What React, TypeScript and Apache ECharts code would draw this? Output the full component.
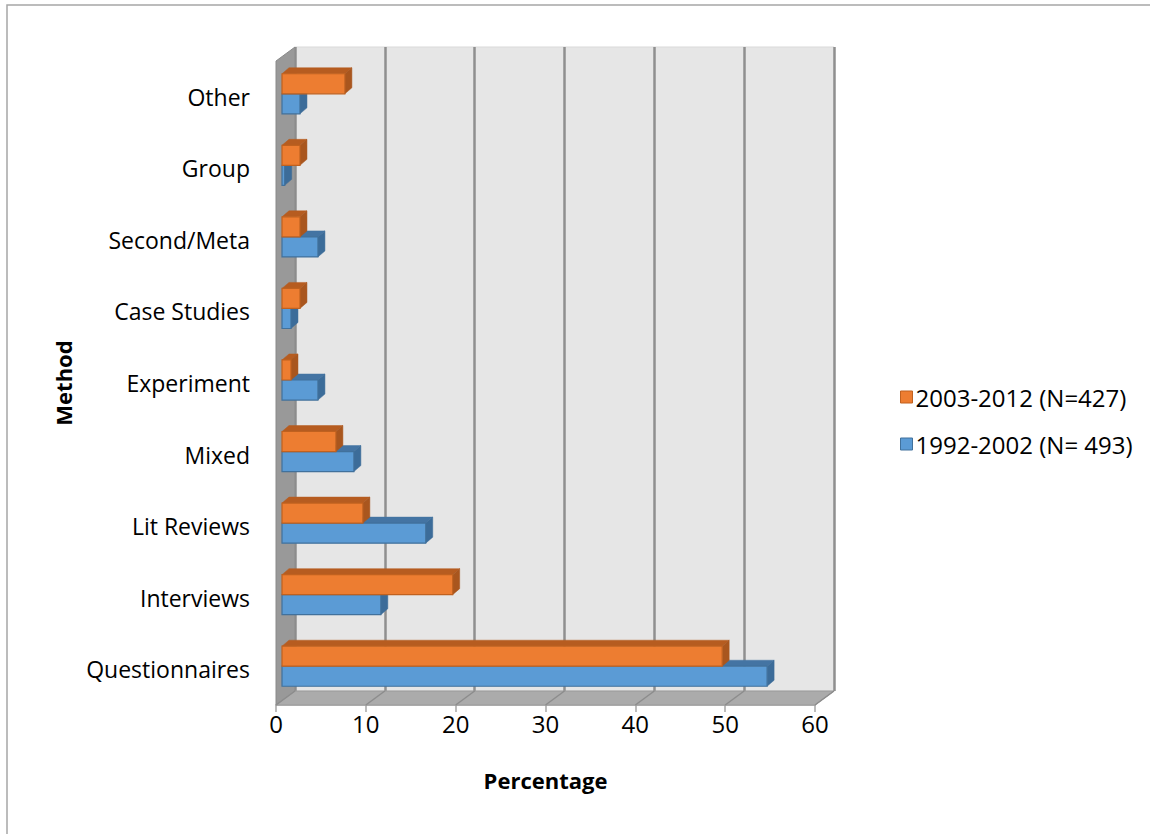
import React, { useEffect, useRef } from "react";
import * as echarts from "echarts";

const categories = [
  "Questionnaires",
  "Interviews",
  "Lit Reviews",
  "Mixed",
  "Experiment",
  "Case Studies",
  "Second/Meta",
  "Group",
  "Other",
];
const series1992 = [54, 11, 16, 8, 4, 1, 4, 0.3, 2];
const series2003 = [49, 19, 9, 6, 1, 2, 2, 2, 7];
const xTicks = [0, 10, 20, 30, 40, 50, 60];
const name2003 = "2003-2012 (N=427)";
const name1992 = "1992-2002 (N= 493)";

const FONT = "'Open Sans', 'Liberation Sans', sans-serif";

// layout (front plane & back wall)
const FL = 276, FT = 61, FW = 539, FH = 644;
const DX = 19, DY = -14;

const COLORS = {
  orange: { front: "#ED7D31", top: "#B65C20", side: "#A9561E", border: "#C0611F" },
  blue: { front: "#5B9BD5", top: "#4474A3", side: "#3C6C99", border: "#41719C" },
};

function makeRender(which: "orange" | "blue") {
  const c = COLORS[which];
  return (params: any, api: any) => {
    const v = api.value(0);
    const cat = api.value(1);
    const p0 = api.coord([0, cat]);
    const p1 = api.coord([v, cat]);
    const band = api.size([0, 1])[1];
    const h = band * 0.28;
    const ox = 6, oy = -3;
    const dx = 7, dy = -6;
    const x0 = p0[0] + ox;
    const x1 = p1[0] + ox;
    const yc = p0[1] + oy;
    const yt = which === "orange" ? yc - h : yc;
    const yb = yt + h;
    return {
      type: "group",
      children: [
        {
          type: "polygon",
          shape: { points: [[x0, yt], [x0 + dx, yt + dy], [x1 + dx, yt + dy], [x1, yt]] },
          style: { fill: c.top, stroke: c.top, lineWidth: 0.5 },
        },
        {
          type: "polygon",
          shape: { points: [[x1, yt], [x1 + dx, yt + dy], [x1 + dx, yb + dy], [x1, yb]] },
          style: { fill: c.side, stroke: c.side, lineWidth: 0.5 },
        },
        {
          type: "rect",
          shape: { x: x0, y: yt, width: Math.max(x1 - x0, 0.5), height: h },
          style: { fill: c.front, stroke: c.border, lineWidth: 1.2 },
        },
      ],
    };
  };
}

export default function App() {
  const ref = useRef<HTMLDivElement>(null);
  useEffect(() => {
    const chart = echarts.init(ref.current!, null, { renderer: "svg" });
    const floorLines = xTicks.map((t) => {
      const xf = FL + (t / 60) * FW;
      return {
        type: "line",
        z: 1,
        shape: { x1: xf, y1: FT + FH, x2: xf + DX, y2: FT + FH + DY },
        style: { stroke: "#8c8c8c", lineWidth: 1.5 },
      };
    });
    chart.setOption({
      animation: false,
      textStyle: { fontFamily: FONT },
      grid: [
        { left: FL, top: FT, width: FW, height: FH, show: false },
        {
          left: FL + DX,
          top: FT + DY,
          width: FW,
          height: FH,
          show: true,
          backgroundColor: "#e6e6e6",
          borderColor: "#d9d9d9",
          borderWidth: 1,
        },
      ],
      xAxis: [
        {
          type: "value",
          gridIndex: 0,
          min: 0,
          max: 60,
          interval: 10,
          splitLine: { show: false },
          axisLine: { show: true, lineStyle: { color: "#a6a6a6", width: 1.5 } },
          axisTick: { show: true, length: 7, lineStyle: { color: "#a6a6a6", width: 1.5 } },
          axisLabel: { fontSize: 24, color: "#000", margin: 6, fontFamily: FONT },
          name: "Percentage",
          nameLocation: "middle",
          nameGap: 64,
          nameTextStyle: { fontSize: 22, fontWeight: "bold", color: "#000", fontFamily: FONT },
        },
        {
          type: "value",
          gridIndex: 1,
          min: 0,
          max: 60,
          interval: 10,
          axisLine: { show: false },
          axisTick: { show: false },
          axisLabel: { show: false },
          splitLine: { show: true, lineStyle: { color: "#8f8f8f", width: 2.5 } },
        },
      ],
      yAxis: [
        {
          type: "category",
          gridIndex: 0,
          data: categories,
          axisLine: { show: false },
          axisTick: { show: false },
          axisLabel: { fontSize: 23, color: "#000", margin: 26, fontFamily: FONT },
          name: "Method",
          nameLocation: "middle",
          nameGap: 202,
          nameRotate: 90,
          nameTextStyle: { fontSize: 22, fontWeight: "bold", color: "#000", fontFamily: FONT },
        },
        {
          type: "category",
          gridIndex: 1,
          data: categories,
          show: false,
        },
      ],
      legend: {
        orient: "vertical",
        left: 895,
        top: 380,
        itemWidth: 12,
        itemHeight: 12,
        itemGap: 23,
        icon: "rect",
        textStyle: { fontSize: 24, color: "#000", fontFamily: FONT, padding: [0, 0, 0, -2] },
        data: [
          { name: name2003, itemStyle: { color: COLORS.orange.front, borderColor: COLORS.orange.border, borderWidth: 1 } },
          { name: name1992, itemStyle: { color: COLORS.blue.front, borderColor: COLORS.blue.border, borderWidth: 1 } },
        ],
      },
      graphic: [
        {
          type: "rect",
          z: -10,
          shape: { x: 7, y: 5, width: 1160, height: 850 },
          style: { fill: "none", stroke: "#a6a6a6", lineWidth: 1.5 },
        },
        {
          type: "polygon",
          z: 1,
          shape: {
            points: [
              [FL, FT],
              [FL + DX, FT + DY],
              [FL + DX, FT + FH + DY],
              [FL, FT + FH],
            ],
          },
          style: { fill: "#999999", stroke: "#8a8a8a", lineWidth: 1 },
        },
        {
          type: "polygon",
          z: 1,
          shape: {
            points: [
              [FL, FT + FH],
              [FL + DX, FT + FH + DY],
              [FL + FW + DX, FT + FH + DY],
              [FL + FW, FT + FH],
            ],
          },
          style: { fill: "#ababab", stroke: "#9a9a9a", lineWidth: 1 },
        },
        ...floorLines,
      ],
      series: [
        {
          name: name1992,
          type: "custom",
          xAxisIndex: 0,
          yAxisIndex: 0,
          z: 3,
          itemStyle: { color: COLORS.blue.front },
          renderItem: makeRender("blue"),
          encode: { x: 0, y: 1 },
          data: series1992.map((v, i) => [v, i]),
        },
        {
          name: name2003,
          type: "custom",
          xAxisIndex: 0,
          yAxisIndex: 0,
          z: 4,
          itemStyle: { color: COLORS.orange.front },
          renderItem: makeRender("orange"),
          encode: { x: 0, y: 1 },
          data: series2003.map((v, i) => [v, i]),
        },
      ],
    });
    return () => chart.dispose();
  }, []);
  return (
    <div
      ref={ref}
      style={{ position: "fixed", left: 0, top: 0, width: 1150, height: 834, background: "#fff" }}
    />
  );
}
